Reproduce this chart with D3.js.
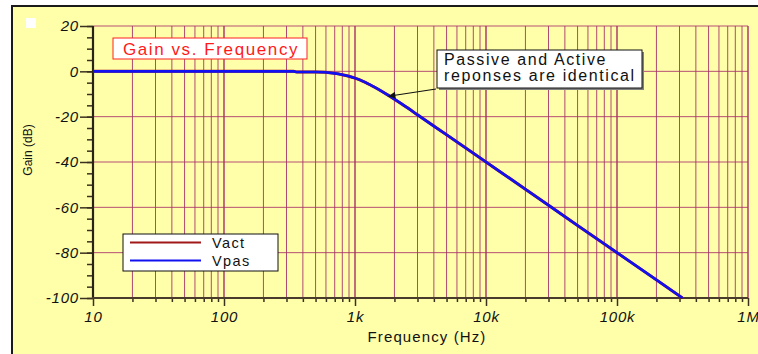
<!DOCTYPE html>
<html>
<head>
<meta charset="utf-8">
<script src="https://cdn.jsdelivr.net/npm/d3@7"></script>
<style>
  html, body { margin: 0; padding: 0; background: #ffffff; }
  svg { display: block; font-family: "Liberation Sans", Arial, sans-serif; }
</style>
</head>
<body>
<svg id="chart" width="758" height="354"></svg>
<script>
// Frequency sweep (Hz) and gain (dB) of the two filter outputs
const freqHz = [10, 30, 100, 200, 340, 360, 500, 700, 800, 900, 1000, 1100, 1200, 1300, 1400, 1600, 1800, 2000, 2500, 3000, 5000, 10000, 20000, 50000, 100000, 200000, 316000];
const vact   = [0, 0, 0, 0, 0, -0.3, -0.3, -0.9, -1.5, -2.2, -3.0, -3.9, -4.9, -5.9, -6.9, -8.8, -10.6, -12.3, -16.0, -19.2, -28.0, -40.0, -52.0, -68.0, -80.0, -92.0, -100.0];
const vpas   = [0, 0, 0, 0, 0, -0.3, -0.3, -0.9, -1.5, -2.2, -3.0, -3.9, -4.9, -5.9, -6.9, -8.8, -10.6, -12.3, -16.0, -19.2, -28.0, -40.0, -52.0, -68.0, -80.0, -92.0, -100.0];

const xMajorTicks = [10, 100, 1000, 10000, 100000, 1000000];
const xTickLabels = ["10", "100", "1k", "10k", "100k", "1M"];
const yMajorTicks = [20, 0, -20, -40, -60, -80, -100];
const yTickLabels = ["20", "0", "-20", "-40", "-60", "-80", "-100"];
const yMinorTicks = d3.range(-100, 21, 5);

const seriesNames = ["Vact", "Vpas"];
const seriesColors = ["#a01818", "#1010f0"];

const svg = d3.select("#chart");

const plotL = 93, plotR = 748, plotT = 26, plotB = 298;
const x = d3.scaleLog().domain([10, 1e6]).range([plotL, plotR]);
const y = d3.scaleLinear().domain([-100, 20]).range([plotB, plotT]);

// panel background and frame
svg.append("rect").attr("x", 12).attr("y", 6).attr("width", 760).attr("height", 360)
  .attr("fill", "#ffffaa").attr("stroke", "#1a1a1a").attr("stroke-width", 2);
svg.append("rect").attr("x", 26).attr("y", 18).attr("width", 10).attr("height", 10).attr("fill", "#ffffff");

// minor frequency values for grid and ticks
const xMinor = [];
for (let d = 10; d < 1e6; d *= 10) for (let k = 2; k <= 9; k++) xMinor.push(d * k);

const grid = svg.append("g");
grid.selectAll("line.vmin").data(xMinor).join("line")
  .attr("x1", d => x(d)).attr("x2", d => x(d)).attr("y1", plotT).attr("y2", plotB)
  .attr("stroke", "#b04a70").attr("stroke-width", 1);
grid.selectAll("line.vmaj").data(xMajorTicks.slice(1)).join("line")
  .attr("x1", d => x(d)).attr("x2", d => x(d)).attr("y1", plotT).attr("y2", plotB)
  .attr("stroke", "#a02060").attr("stroke-width", 1.3);
grid.selectAll("line.h").data(yMajorTicks.filter(v => v > -100)).join("line")
  .attr("x1", plotL).attr("x2", plotR).attr("y1", d => y(d)).attr("y2", d => y(d))
  .attr("stroke", "#a8306a").attr("stroke-width", 1).attr("stroke-opacity", 0.85);

// axes
const yMinorAxis = d3.axisLeft(y).tickValues(yMinorTicks).tickSize(6).tickFormat("");
const yAxis = d3.axisLeft(y).tickValues(yMajorTicks).tickSize(13).tickPadding(1)
  .tickFormat((d, i) => yTickLabels[i]);
const xMinorAxis = d3.axisBottom(x).tickValues(xMinor).tickSize(4).tickFormat("");
const xAxis = d3.axisBottom(x).tickValues(xMajorTicks).tickSize(8).tickPadding(5)
  .tickFormat((d, i) => xTickLabels[i]);

function styleAxis(g) {
  g.select(".domain").remove();
  g.selectAll(".tick line").attr("stroke", "#3a3020").attr("stroke-width", 1.5);
  g.selectAll(".tick text").attr("fill", "#111").attr("font-size", 15)
    .attr("letter-spacing", 0.8)
    .attr("font-style", "italic").attr("font-family", "Liberation Sans, Arial, sans-serif");
}
svg.append("g").attr("transform", `translate(${plotL},0)`).call(yMinorAxis).call(styleAxis);
svg.append("g").attr("transform", `translate(${plotL},0)`).call(yAxis).call(styleAxis);
svg.append("g").attr("transform", `translate(0,${plotB})`).call(xMinorAxis).call(styleAxis);
svg.append("g").attr("transform", `translate(0,${plotB})`).call(xAxis).call(styleAxis);

svg.append("line").attr("x1", plotL).attr("x2", plotL).attr("y1", plotT).attr("y2", plotB + 1)
  .attr("stroke", "#2a2418").attr("stroke-width", 2.2);
svg.append("line").attr("x1", plotL - 1).attr("x2", plotR).attr("y1", plotB).attr("y2", plotB)
  .attr("stroke", "#4a3c2c").attr("stroke-width", 2.2);

// curves
const line = d3.line().x(d => x(d[0])).y(d => y(d[1])).curve(d3.curveMonotoneX);
svg.append("path").datum(freqHz.map((f, i) => [f, vact[i]]))
  .attr("d", line).attr("fill", "none").attr("stroke", seriesColors[0]).attr("stroke-width", 3);
svg.append("path").datum(freqHz.map((f, i) => [f, vpas[i]]))
  .attr("d", line).attr("fill", "none").attr("stroke", seriesColors[1]).attr("stroke-width", 2.6);

// axis titles
svg.append("text").attr("x", 427).attr("y", 342).attr("text-anchor", "middle")
  .attr("font-size", 15).attr("letter-spacing", 1.1).attr("fill", "#111").text("Frequency (Hz)");
svg.append("text").attr("transform", "translate(32,150) rotate(-90)").attr("text-anchor", "middle")
  .attr("font-size", 12).attr("fill", "#111").text("Gain (dB)");

// chart title
svg.append("rect").attr("x", 113).attr("y", 38).attr("width", 194).attr("height", 21)
  .attr("fill", "#ffffff").attr("stroke", "#ff2020").attr("stroke-width", 1);
svg.append("text").attr("x", 211).attr("y", 54.5).attr("text-anchor", "middle")
  .attr("font-size", 17).attr("letter-spacing", 1.6).attr("fill", "#ff1a1a").text("Gain vs. Frequency");

// annotation
svg.append("rect").attr("x", 439).attr("y", 52).attr("width", 205).attr("height", 38).attr("fill", "#808080");
svg.append("rect").attr("x", 437).attr("y", 50).attr("width", 205).attr("height", 38)
  .attr("fill", "#ffffff").attr("stroke", "#111").attr("stroke-width", 1);
svg.append("text").attr("x", 444).attr("y", 64.5).attr("font-size", 16).attr("letter-spacing", 1.6)
  .attr("fill", "#111").text("Passive and Active");
svg.append("text").attr("x", 444).attr("y", 80.5).attr("font-size", 16).attr("letter-spacing", 1.6)
  .attr("fill", "#111").text("reponses are identical");
svg.append("defs").append("marker").attr("id", "arrow").attr("viewBox", "0 0 10 10")
  .attr("refX", 10).attr("refY", 5).attr("markerWidth", 12).attr("markerHeight", 7)
  .attr("markerUnits", "userSpaceOnUse").attr("orient", "auto")
  .append("path").attr("d", "M0,0 L10,5 L0,10 z").attr("fill", "#111");
svg.append("line").attr("x1", 436).attr("y1", 89).attr("x2", x(1800)).attr("y2", y(-11))
  .attr("stroke", "#111").attr("stroke-width", 1.2).attr("marker-end", "url(#arrow)");

// legend
const lg = svg.append("g");
lg.append("rect").attr("x", 123).attr("y", 234).attr("width", 155).attr("height", 37)
  .attr("fill", "#ffffff").attr("stroke", "#111").attr("stroke-width", 1);
seriesNames.forEach((name, i) => {
  const yy = 242.5 + i * 18;
  lg.append("line").attr("x1", 130).attr("x2", 201).attr("y1", yy).attr("y2", yy)
    .attr("stroke", seriesColors[i]).attr("stroke-width", 2);
  lg.append("text").attr("x", 212).attr("y", yy + 5.5).attr("font-size", 14.5).attr("letter-spacing", 1.4)
    .attr("fill", "#111").text(name);
});
</script>
</body>
</html>
